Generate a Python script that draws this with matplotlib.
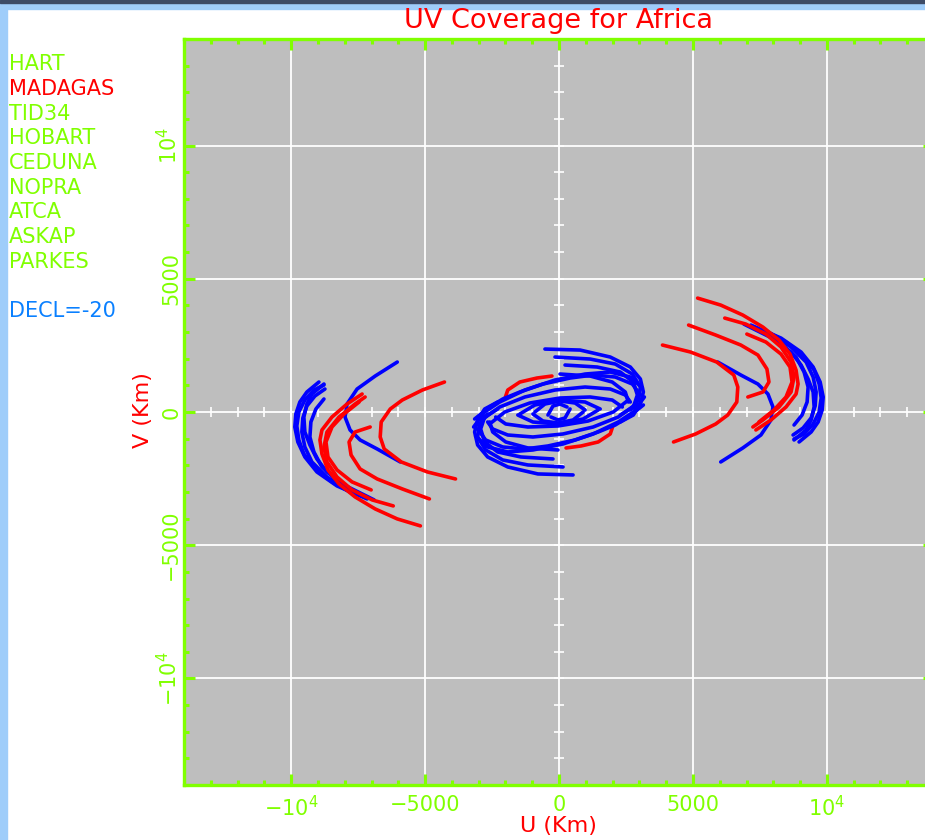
import matplotlib
matplotlib.use("Agg")
import matplotlib.pyplot as plt
from matplotlib.patches import Rectangle
from matplotlib.ticker import FixedLocator, MultipleLocator

# Stations in the legend, MADAGAS is the highlighted one
STATIONS = ["HART", "MADAGAS", "TID34", "HOBART", "CEDUNA", "NOPRA", "ATCA", "ASKAP", "PARKES"]
HIGHLIGHT = "MADAGAS"
DECL = -20

# Tracks (km). Each one is drawn together with its
# conjugate (-u, -v), like every UV coverage plot.

# MADAGAS - Australia (red, right hand arcs)
mad_askap_u = [3863, 4913, 5888, 6525, 6675, 6638, 6300, 5850, 5100, 4275]
mad_askap_v = [2513, 2250, 1875, 1388, 938, 375, -113, -450, -825, -1125]
mad_ceduna_u = [4838, 5850, 6788, 7425, 7763, 7838, 7613, 7050]
mad_ceduna_v = [3263, 2888, 2513, 2138, 1613, 1125, 750, 563]
mad_tid34_u = [5175, 6038, 6863, 7613, 8213, 8625, 8850, 8925, 8850, 8475, 7913, 7350]
mad_tid34_v = [4275, 4013, 3638, 3188, 2700, 2175, 1575, 1050, 675, 188, -300, -675]
mad_parkes_u = [6188, 6975, 7725, 8288, 8663, 8775, 8663, 8213, 7613, 7238]
mad_parkes_v = [3525, 3300, 2925, 2438, 1875, 1313, 750, 188, -300, -563]
mad_hobart_u = [7013, 7725, 8288, 8625, 8700, 8475, 8025, 7463]
mad_hobart_v = [2925, 2625, 2175, 1688, 1125, 563, 75, -375]

# HART - Australia (blue, right hand arcs)
hart_askap_u = [5925, 6788, 7425, 7800, 7988, 7913, 7538, 6863, 6038]
hart_askap_v = [1875, 1388, 1050, 675, 188, -300, -863, -1350, -1875]
hart_ceduna_u = [6900, 8025, 8663, 9038, 9300, 9488, 9525, 9413, 9225, 8775]
hart_ceduna_v = [3300, 2738, 2250, 1763, 1238, 750, 188, -300, -675, -1050]
hart_tid34_u = [7163, 8288, 9038, 9488, 9750, 9863, 9825, 9675, 9413, 8963]
hart_tid34_v = [3263, 2775, 2250, 1688, 1125, 563, 75, -375, -750, -1125]
hart_parkes_u = [7613, 8475, 9113, 9525, 9713, 9788, 9713, 9488, 9150, 8775]
hart_parkes_v = [3113, 2625, 2100, 1575, 1050, 525, 0, -450, -825, -1013]
hart_atca_u = [7913, 8663, 9225, 9488, 9600, 9563, 9413, 9113, 8738]
hart_atca_v = [2925, 2438, 1875, 1313, 750, 225, -225, -600, -863]
hart_hobart_u = [8288, 8850, 9150, 9300, 9263, 9075, 8775]
hart_hobart_v = [2550, 2063, 1500, 938, 375, -113, -488]

# HART - MADAGAS (red, centre)
hart_mad_u = [-263, -825, -1463, -1913, -2025]
hart_mad_v = [1350, 1275, 1125, 825, 488]

# Australian baselines (blue, centre)
aus1_u = [-525, 788, 1913, 2663, 3038, 3150, 3038, 2775, 2288]
aus1_v = [2363, 2325, 2063, 1688, 1238, 750, 300, -113, -375]
aus2_u = [225, 1425, 2288, 2775, 2925, 2775, 2288]
aus2_v = [1763, 1688, 1500, 1125, 638, 188, -113]
aus3_u = [38, 1163, 1988, 2475, 2588]
aus3_v = [1425, 1350, 1125, 750, 375]
aus4_u = [-3150, -2588, -2100, -1463, -600, 413, 1275, 2100, 2738, 3038]
aus4_v = [-263, 188, 488, 750, 1050, 1275, 1388, 1313, 1050, 638]
aus5_u = [-2888, -2213, -1275, -150, 975, 1913, 2475, 2663]
aus5_v = [-300, 188, 563, 825, 938, 863, 638, 375]
aus6_u = [-2588, -2025, -1088, 38, 1163, 1988, 2363]
aus6_v = [-450, 0, 338, 525, 563, 450, 188]
aus7_u = [-1463, -900, 38, 975, 1538]
aus7_v = [-75, 263, 450, 375, 113]
aus8_u = [-900, -525, 38, 600, 975]
aus8_v = [0, 300, 413, 338, 75]
aus9_u = [-413, -225, 38, 300]
aus9_v = [-113, 225, 300, 188]
aus10_u = [-150, 1163, 2100, 2738, 3038, 2963, 2663]
aus10_v = [2063, 1988, 1800, 1425, 938, 450, 75]
aus11_u = [-3188, -2775, -2213, -1275, -150, 975, 1913, 2663, 3113]
aus11_v = [-563, 0, 375, 825, 1200, 1425, 1500, 1313, 900]

GREEN = "#80ff00"
RED = "#ff0000"
BLUE = "#0000ff"
DECL_BLUE = "#0a80ff"
GRAY = "#bebebe"


def draw_track(ax, u, v, color):
    ax.plot(u, v, color=color, lw=2.6, solid_capstyle="round", zorder=3)
    ax.plot([-x for x in u], [-y for y in v], color=color, lw=2.6,
            solid_capstyle="round", zorder=3)


fig = plt.figure(figsize=(9.25, 8.4), dpi=100)
fig.patch.set_facecolor("white")

# window border of the screenshot
fig.add_artist(Rectangle((0, 0), 7 / 925, 1, transform=fig.transFigure,
                         color="#9fcdfa", zorder=0))
fig.add_artist(Rectangle((0, 1 - 9 / 840), 1, 9 / 840, transform=fig.transFigure,
                         color="#9fcdfa", zorder=0))
fig.add_artist(Rectangle((0, 1 - 3 / 840), 1, 3 / 840, transform=fig.transFigure,
                         color="#3d4b66", zorder=0))

ax = fig.add_axes([184 / 925, 55 / 840, 750 / 925, 746 / 840])
ax.set_facecolor(GRAY)
ax.set_xlim(-14000, 14000)
ax.set_ylim(-14000, 14000)

major = [-10000, -5000, 0, 5000, 10000]
ax.xaxis.set_major_locator(FixedLocator(major))
ax.yaxis.set_major_locator(FixedLocator(major))
ax.xaxis.set_minor_locator(MultipleLocator(1000))
ax.yaxis.set_minor_locator(MultipleLocator(1000))
ax.set_xticklabels([r"$-10^4$", "\u22125000", "0", "5000", r"$10^4$"])
ax.set_yticklabels([r"$-10^4$", "\u22125000", "0", "5000", r"$10^4$"])

ax.tick_params(which="both", direction="in", color=GREEN, width=2.2,
               top=True, right=True, labelcolor=GREEN, labelsize=15)
ax.tick_params(which="major", length=8)
ax.tick_params(which="minor", length=3.8)
ax.tick_params(axis="x", pad=7)
ax.tick_params(axis="y", pad=2, labelrotation=90)
for lab in ax.get_yticklabels():
    lab.set_verticalalignment("center")
for sp in ax.spines.values():
    sp.set_color(GREEN)
    sp.set_linewidth(2.4)

ax.grid(which="major", color="white", lw=1.3)
ax.set_axisbelow(True)

# small cross ticks along the centre axes
cross = list(range(-13000, 14000, 1000))
ax.plot(cross, [0] * len(cross), ls="none", marker="|", ms=7, mew=1.2,
        color="white", zorder=1)
ax.plot([0] * len(cross), cross, ls="none", marker="_", ms=7, mew=1.2,
        color="white", zorder=1)

# HART baselines first, then MADAGAS, then the Australian ones
draw_track(ax, hart_mad_u, hart_mad_v, RED)
for u, v in [(hart_askap_u, hart_askap_v), (hart_ceduna_u, hart_ceduna_v),
             (hart_tid34_u, hart_tid34_v), (hart_parkes_u, hart_parkes_v),
             (hart_atca_u, hart_atca_v), (hart_hobart_u, hart_hobart_v)]:
    draw_track(ax, u, v, BLUE)
for u, v in [(mad_askap_u, mad_askap_v), (mad_ceduna_u, mad_ceduna_v),
             (mad_tid34_u, mad_tid34_v), (mad_parkes_u, mad_parkes_v),
             (mad_hobart_u, mad_hobart_v)]:
    draw_track(ax, u, v, RED)
for u, v in [(aus1_u, aus1_v), (aus2_u, aus2_v), (aus3_u, aus3_v),
             (aus4_u, aus4_v), (aus5_u, aus5_v), (aus6_u, aus6_v),
             (aus7_u, aus7_v), (aus8_u, aus8_v), (aus9_u, aus9_v),
             (aus10_u, aus10_v), (aus11_u, aus11_v)]:
    draw_track(ax, u, v, BLUE)

# titles
fig.text(558 / 925, 1 - 21 / 840, "UV Coverage for Africa", color=RED,
         fontsize=19.5, ha="center", va="center")
fig.text(558 / 925, 1 - 826 / 840, "U (Km)", color=RED, fontsize=16,
         ha="center", va="center")
fig.text(143 / 925, 1 - 410 / 840, "V (Km)", color=RED, fontsize=16,
         ha="center", va="center", rotation=90)

# station list on the left
for i, name in enumerate(STATIONS):
    c = RED if name == HIGHLIGHT else GREEN
    fig.text(9 / 925, 1 - (64 + 24.75 * i) / 840, name, color=c, fontsize=15,
             ha="left", va="center")
fig.text(9 / 925, 1 - 311 / 840, "DECL=%d" % DECL, color=DECL_BLUE, fontsize=15,
         ha="left", va="center")

fig.savefig("out.png", dpi=100)
